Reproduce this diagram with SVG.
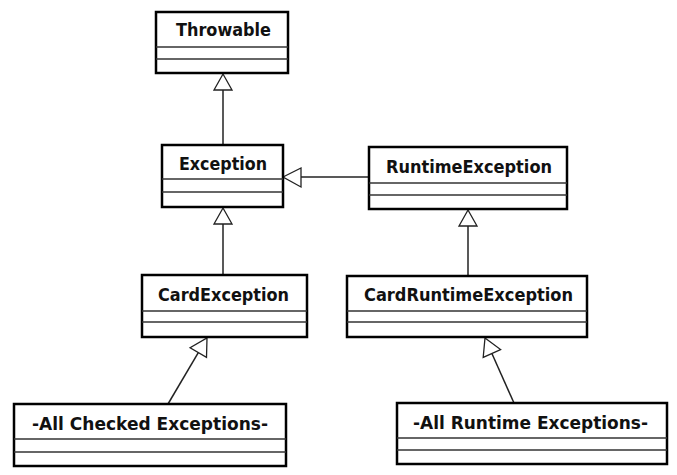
<svg xmlns="http://www.w3.org/2000/svg" width="677" height="475" viewBox="0 0 677 475">
<style>
.box{fill:#fff;stroke:#000;stroke-width:2.5}
.sep{stroke:#333;stroke-width:1.5}
.lbl{font-family:"DejaVu Sans","Liberation Sans",sans-serif;font-weight:bold;font-size:17px;fill:#111;text-anchor:middle}
.con{stroke:#222;stroke-width:1.5;fill:none}
.tri{fill:#fff;stroke:#222;stroke-width:1.3}
</style>
<rect width="677" height="475" fill="#fff"/>
<g id="connectors">
<line class="con" x1="223" y1="90" x2="223" y2="145"/>
<polygon class="tri" points="223,74 214,90 232,90"/>
<line class="con" x1="223" y1="224" x2="223" y2="275"/>
<polygon class="tri" points="223,208 214,224 232,224"/>
<line class="con" x1="301" y1="177" x2="369" y2="177"/>
<polygon class="tri" points="283,177 301,168 301,187"/>
<line class="con" x1="468" y1="226" x2="468" y2="276"/>
<polygon class="tri" points="468,210 459,226 477,226"/>
<line class="con" x1="198.3" y1="352.6" x2="168" y2="404"/>
<polygon class="tri" points="207,338 206.5,357.4 190.1,347.8"/>
<line class="con" x1="491.9" y1="353.5" x2="514" y2="403"/>
<polygon class="tri" points="485,338 500.6,349.6 483.2,357.4"/>
</g>
<g id="throwable">
<rect class="box" x="156" y="12" width="132" height="61"/>
<line class="sep" x1="156" y1="47" x2="288" y2="47"/>
<line class="sep" x1="156" y1="59" x2="288" y2="59"/>
<text class="lbl" x="223.5" y="36" textLength="95" lengthAdjust="spacingAndGlyphs">Throwable</text>
</g>
<g id="exception">
<rect class="box" x="162" y="145" width="121" height="62"/>
<line class="sep" x1="162" y1="179" x2="283" y2="179"/>
<line class="sep" x1="162" y1="192" x2="283" y2="192"/>
<text class="lbl" x="223" y="170" textLength="88" lengthAdjust="spacingAndGlyphs">Exception</text>
</g>
<g id="runtimeException">
<rect class="box" x="369" y="147" width="198" height="62"/>
<line class="sep" x1="369" y1="183" x2="567" y2="183"/>
<line class="sep" x1="369" y1="195" x2="567" y2="195"/>
<text class="lbl" x="469" y="173" textLength="166" lengthAdjust="spacingAndGlyphs">RuntimeException</text>
</g>
<g id="cardException">
<rect class="box" x="142" y="275" width="165" height="62"/>
<line class="sep" x1="142" y1="311" x2="307" y2="311"/>
<line class="sep" x1="142" y1="322" x2="307" y2="322"/>
<text class="lbl" x="223.5" y="301" textLength="131" lengthAdjust="spacingAndGlyphs">CardException</text>
</g>
<g id="cardRuntimeException">
<rect class="box" x="347" y="276" width="240" height="61"/>
<line class="sep" x1="347" y1="311" x2="587" y2="311"/>
<line class="sep" x1="347" y1="322" x2="587" y2="322"/>
<text class="lbl" x="468.5" y="301" textLength="209" lengthAdjust="spacingAndGlyphs">CardRuntimeException</text>
</g>
<g id="allChecked">
<rect class="box" x="14" y="404" width="272" height="62"/>
<line class="sep" x1="14" y1="439" x2="286" y2="439"/>
<line class="sep" x1="14" y1="452" x2="286" y2="452"/>
<text class="lbl" x="150" y="430" textLength="236" lengthAdjust="spacingAndGlyphs">-All Checked Exceptions-</text>
</g>
<g id="allRuntime">
<rect class="box" x="397" y="403" width="270" height="61"/>
<line class="sep" x1="397" y1="438" x2="667" y2="438"/>
<line class="sep" x1="397" y1="450" x2="667" y2="450"/>
<text class="lbl" x="530.5" y="429" textLength="235" lengthAdjust="spacingAndGlyphs">-All Runtime Exceptions-</text>
</g>
</svg>
